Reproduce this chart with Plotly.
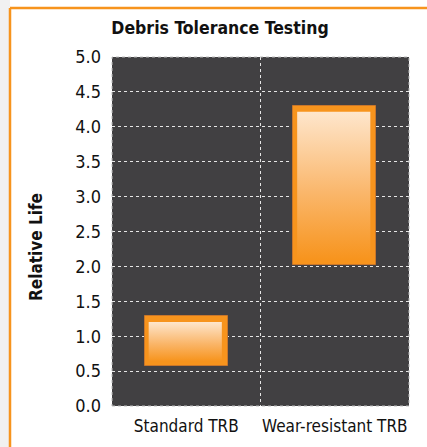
import plotly.graph_objects as go

categories = ["Standard TRB", "Wear-resistant TRB"]
low_values = [0.57, 2.02]
high_values = [1.29, 4.30]
y_ticks = [0.0, 0.5, 1.0, 1.5, 2.0, 2.5, 3.0, 3.5, 4.0, 4.5, 5.0]

W, H = 427, 447
ML, MR, MT, MB = 112, 18, 57, 41
plot_w = W - ML - MR
plot_h = H - MT - MB
x_range = [-0.5, len(categories) - 0.5]
y_range = [0, 5]
px_x = plot_w / (x_range[1] - x_range[0])
px_y = plot_h / (y_range[1] - y_range[0])

bar_w = 0.56
orange = "#F7941D"
font_fam = "Liberation Sans Narrow, DejaVu Sans Condensed, Arial Narrow, sans-serif"

xs = list(range(len(categories)))
fig = go.Figure()
fig.add_trace(go.Bar(
    x=xs, y=[h - l for l, h in zip(low_values, high_values)], base=low_values,
    width=bar_w, marker=dict(color=orange, line=dict(color="#C9762A", width=1)),
    showlegend=False, hoverinfo="skip"))

# inner gradient panels derived from the same data
dxl, dxr = 4 / px_x, 6 / px_x
dyt, dyb = 6 / px_y, 5 / px_y
for i, (l, h) in enumerate(zip(low_values, high_values)):
    x0 = i - bar_w / 2 + dxl
    x1 = i + bar_w / 2 - dxr
    y0 = l + dyb
    y1 = h - dyt
    fig.add_trace(go.Scatter(
        x=[x0, x1, x1, x0, x0], y=[y0, y0, y1, y1, y0],
        mode="lines", line=dict(width=0), fill="toself",
        fillgradient=dict(type="vertical",
                          colorscale=[[0, orange], [0.45, "#FAB66A"], [1, "#FEE6CC"]]),
        showlegend=False, hoverinfo="skip"))

fig.update_layout(
    width=W, height=H,
    margin=dict(l=ML, r=MR, t=MT, b=MB, autoexpand=False),
    paper_bgcolor="white", plot_bgcolor="#414042",
    font=dict(family=font_fam, color="#111111", size=17),
    title=dict(text="<b>Debris Tolerance Testing</b>", x=(220 - ML) / plot_w, xanchor="center",
               xref="paper", y=1 - 28 / H, yanchor="middle", yref="container",
               font=dict(size=17.5, family=font_fam, color="#111111")),
    xaxis=dict(range=x_range, tickvals=xs, ticktext=categories, showgrid=False,
               zeroline=False, showline=False, ticks="", ticklabelstandoff=8,
               tickfont=dict(size=17),
               minor=dict(tick0=-0.5, dtick=1, showgrid=True, gridcolor="#E6E6E6",
                          griddash="dot", gridwidth=1, ticks="")),
    yaxis=dict(range=y_range, tickvals=y_ticks, ticktext=[f"{v:.1f}" for v in y_ticks],
               showgrid=True, gridcolor="#E6E6E6", griddash="dot", gridwidth=1,
               zeroline=False, showline=False, ticks="", ticklabelstandoff=10,
               tickfont=dict(size=18)),
    bargap=0,
    shapes=[
        dict(type="rect", xref="paper", yref="paper", x0=-ML / plot_w, x1=(10 - ML) / plot_w,
             y0=-MB / plot_h, y1=1 + MT / plot_h, fillcolor="#F1F1F1", line=dict(width=0),
             layer="below"),
        dict(type="rect", xref="paper", yref="paper", x0=0, x1=1, y0=0, y1=1,
             line=dict(color="#BDBDBD", width=1, dash="dot"), fillcolor="rgba(0,0,0,0)"),
        dict(type="line", xref="paper", yref="paper", x0=(10 - ML) / plot_w, x1=1 + MR / plot_w,
             y0=1 + (MT - 8) / plot_h, y1=1 + (MT - 8) / plot_h,
             line=dict(color=orange, width=2.5)),
        dict(type="line", xref="paper", yref="paper", x0=(10 - ML) / plot_w, x1=(10 - ML) / plot_w,
             y0=-MB / plot_h, y1=1 + (MT - 8) / plot_h,
             line=dict(color=orange, width=2.5)),
    ],
    annotations=[dict(text="<b>Relative Life</b>", textangle=-90, xref="paper", yref="paper",
                      x=(36 - ML) / plot_w, y=(H - MB - 247) / plot_h, showarrow=False,
                      xanchor="center", yanchor="middle",
                      font=dict(size=17, family=font_fam, color="#111111"))],
)

fig.write_html("out.html", config={"displayModeBar": False},
               post_script="document.body.style.margin='0px';document.body.style.overflow='hidden';")
